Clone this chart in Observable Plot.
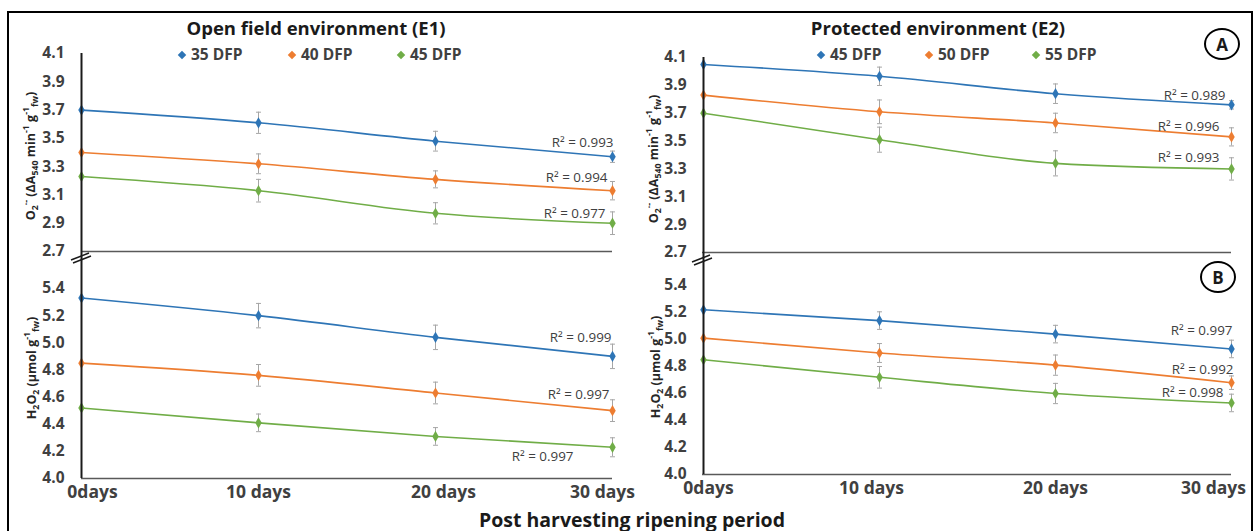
<!DOCTYPE html>
<html><head><meta charset="utf-8">
<script src="https://cdn.jsdelivr.net/npm/d3@7"></script>
<script src="https://cdn.jsdelivr.net/npm/@observablehq/plot@0.6"></script>
<style>
body{margin:0;background:#fff;font-family:"Open Sans",Lato,sans-serif;}
#chart{position:relative;width:1258px;height:531px;overflow:hidden;background:#fff;}
.frame{position:absolute;left:7px;top:11px;width:1246px;height:560px;border:2px solid #000;box-sizing:border-box;}
.pl{position:absolute;}
.title{position:absolute;transform:translate(-50%,-50%);font-weight:bold;font-size:18.5px;color:#1a1a1a;white-space:nowrap;}
.leg{position:absolute;transform:translateY(-50%);font-weight:bold;font-size:15.5px;color:#404040;white-space:nowrap;}
.mk{display:inline-block;width:6px;height:6px;transform:rotate(45deg);margin-right:6px;vertical-align:middle;position:relative;top:-1px;}
.ylab{position:absolute;transform:translate(-50%,-50%) rotate(-90deg);white-space:nowrap;font-weight:bold;font-size:12.5px;color:#262626;}
.ylab sub,.ylab sup{font-size:0.7em;line-height:0;}
.xtitle{position:absolute;transform:translate(-50%,-50%);font-weight:bold;font-size:19.5px;color:#1a1a1a;white-space:nowrap;}
.circ{position:absolute;width:36px;height:32px;border:2px solid #000;border-radius:50%;box-sizing:border-box;transform:translate(-50%,-50%);display:flex;align-items:center;justify-content:center;font-weight:bold;font-size:17px;color:#1a1a1a;}
.brk{position:absolute;}
</style></head>
<body><div id="chart"></div>
<script>
// ---------- data ----------
const days = ["0days", "10 days", "20 days", "30 days"];
const seriesE1 = ["35 DFP", "40 DFP", "45 DFP"];
const seriesE2 = ["45 DFP", "50 DFP", "55 DFP"];
const seriesColors = ["#2e75b6", "#ed7d31", "#70ad47"];

const o2Ticks = [2.7, 2.9, 3.1, 3.3, 3.5, 3.7, 3.9, 4.1];
const h2o2Ticks = [4.0, 4.2, 4.4, 4.6, 4.8, 5.0, 5.2, 5.4];

// Superoxide, open field (E1)
const o2E1_35 = [3.70, 3.61, 3.48, 3.37];
const o2E1_40 = [3.40, 3.32, 3.21, 3.13];
const o2E1_45 = [3.23, 3.13, 2.97, 2.90];
const o2E1_35err = [0, 0.075, 0.07, 0.04];
const o2E1_40err = [0, 0.07, 0.06, 0.065];
const o2E1_45err = [0, 0.08, 0.075, 0.08];
const o2E1_r2 = ["0.993", "0.994", "0.977"];

// Superoxide, protected (E2)
const o2E2_45 = [4.05, 3.965, 3.84, 3.76];
const o2E2_50 = [3.83, 3.71, 3.63, 3.53];
const o2E2_55 = [3.70, 3.51, 3.34, 3.30];
const o2E2_45err = [0, 0.066, 0.07, 0.03];
const o2E2_50err = [0, 0.085, 0.07, 0.065];
const o2E2_55err = [0, 0.09, 0.09, 0.08];
const o2E2_r2 = ["0.989", "0.996", "0.993"];

// H2O2, open field (E1)
const h2E1_35 = [5.33, 5.20, 5.04, 4.90];
const h2E1_40 = [4.85, 4.76, 4.63, 4.50];
const h2E1_45 = [4.52, 4.41, 4.31, 4.23];
const h2E1_35err = [0, 0.09, 0.09, 0.09];
const h2E1_40err = [0, 0.08, 0.08, 0.08];
const h2E1_45err = [0, 0.065, 0.065, 0.07];
const h2E1_r2 = ["0.999", "0.997", "0.997"];

// H2O2, protected (E2)
const h2E2_45 = [5.22, 5.14, 5.04, 4.93];
const h2E2_50 = [5.01, 4.90, 4.81, 4.68];
const h2E2_55 = [4.85, 4.72, 4.60, 4.53];
const h2E2_45err = [0, 0.065, 0.065, 0.065];
const h2E2_50err = [0, 0.07, 0.075, 0.05];
const h2E2_55err = [0, 0.08, 0.075, 0.065];
const h2E2_r2 = ["0.997", "0.992", "0.998"];

// ---------- layout ----------
const chart = document.getElementById("chart");
const FONT = "'Open Sans', Lato, sans-serif";
const capSymbol = {draw(ctx, size){ const w = Math.sqrt(size); ctx.moveTo(-w, 0); ctx.lineTo(w, 0); }};

function panel(cfg){
  const rows = [];
  cfg.series.forEach((name, i) => {
    cfg.values[i].forEach((v, j) => rows.push({series: name, day: days[j], v, e: cfg.errors[i][j]}));
  });
  const errRows = rows.filter(d => d.e > 0);
  const d0 = cfg.ticks[0], d1 = cfg.ticks[cfg.ticks.length - 1];
  const ppu = (cfg.height - cfg.marginTop - cfg.marginBottom) / (d1 - d0);
  const axisTopVal = d1 + (cfg.marginTop - cfg.axisTopPx) / ppu;
  const r2marks = cfg.series.map((name, i) => Plot.text([cfg.r2[i]], {
    x: () => days[days.length - 1],
    y: () => cfg.values[i][cfg.values[i].length - 1],
    text: d => "R² = " + d,
    textAnchor: "end", lineAnchor: "middle",
    dx: cfg.r2Offsets[i][0], dy: cfg.r2Offsets[i][1],
    fill: "#404040", fontSize: 13.4, fontWeight: "normal"
  }));
  const marks = [
    Plot.ruleY([d0], {stroke: "#595959", strokeWidth: 1.6}),
    Plot.ruleX(errRows, {x: "day", y1: d => d.v - d.e, y2: d => d.v + d.e, stroke: "#a6a6a6", strokeWidth: 1}),
    Plot.dot(errRows, {x: "day", y: d => d.v - d.e, symbol: capSymbol, r: 1.4, stroke: "#a6a6a6", fill: "none", strokeWidth: 1}),
    Plot.dot(errRows, {x: "day", y: d => d.v + d.e, symbol: capSymbol, r: 1.4, stroke: "#a6a6a6", fill: "none", strokeWidth: 1}),
    Plot.line(rows, {x: "day", y: "v", z: "series", stroke: "series", strokeWidth: 1.6, curve: "monotone-x"}),
    Plot.dot(rows, {x: "day", y: "v", fill: "series", symbol: "diamond", r: 3.4}),
    Plot.ruleX([days[0]], {y1: axisTopVal, y2: d0, stroke: "#1a1a1a", strokeWidth: 2}),
    Plot.axisY({ticks: cfg.ticks, tickFormat: d3.format(".1f"), tickSize: 0, tickPadding: cfg.tickPadding, label: null, fontSize: 15.5, fontWeight: "bold"}),
    ...r2marks
  ];
  if (cfg.xAxis) days.forEach((d, i) => marks.push(
    Plot.axisX({ticks: [d], tickSize: 0, tickPadding: 7, label: null, fontSize: 17.5, fontWeight: "bold", dx: cfg.xLabelDx[i]})));
  const svg = Plot.plot({
    width: cfg.width, height: cfg.height,
    marginTop: cfg.marginTop, marginBottom: cfg.marginBottom,
    marginLeft: cfg.marginLeft, marginRight: cfg.marginRight,
    x: {type: "point", domain: days, padding: 0, axis: null},
    y: {domain: [d0, d1], axis: null},
    color: {domain: cfg.series, range: seriesColors},
    style: {fontFamily: FONT, fontSize: "15px", fontWeight: "bold", color: "#404040", overflow: "visible", background: "transparent"},
    marks
  });
  const wrap = document.createElement("div");
  wrap.className = "pl";
  wrap.style.left = cfg.left + "px";
  wrap.style.top = cfg.top + "px";
  wrap.appendChild(svg);
  chart.appendChild(wrap);
}

// frame
chart.insertAdjacentHTML("beforeend", `<div class="frame"></div>`);

panel({left: 0, top: 0, width: 640, height: 251, marginTop: 53, marginBottom: 0, marginLeft: 81, marginRight: 28,
  tickPadding: 17, axisTopPx: 53, xAxis: false,
  series: seriesE1, values: [o2E1_35, o2E1_40, o2E1_45], errors: [o2E1_35err, o2E1_40err, o2E1_45err], r2: o2E1_r2,
  ticks: o2Ticks, r2Offsets: [[1, -14], [-5, -13], [-7, -10]]});
panel({left: 630, top: 0, width: 628, height: 252, marginTop: 57, marginBottom: 0, marginLeft: 72, marginRight: 27,
  tickPadding: 16, axisTopPx: 57, xAxis: false,
  series: seriesE2, values: [o2E2_45, o2E2_50, o2E2_55], errors: [o2E2_45err, o2E2_50err, o2E2_55err], r2: o2E2_r2,
  ticks: o2Ticks, r2Offsets: [[-6, -9], [-12, -10], [-12, -11]]});
panel({left: 0, top: 240, width: 640, height: 268, marginTop: 48, marginBottom: 30, marginLeft: 81, marginRight: 28,
  tickPadding: 17, axisTopPx: 11, xAxis: true, xLabelDx: [11, 0, 8, -10],
  series: seriesE1, values: [h2E1_35, h2E1_40, h2E1_45], errors: [h2E1_35err, h2E1_40err, h2E1_45err], r2: h2E1_r2,
  ticks: h2o2Ticks, r2Offsets: [[-1, -19], [-3, -16], [-39, 9]]});
panel({left: 630, top: 240, width: 628, height: 264, marginTop: 45, marginBottom: 30, marginLeft: 72, marginRight: 27,
  tickPadding: 16, axisTopPx: 12, xAxis: true, xLabelDx: [5, -8, 0, -18],
  series: seriesE2, values: [h2E2_45, h2E2_50, h2E2_55], errors: [h2E2_45err, h2E2_50err, h2E2_55err], r2: h2E2_r2,
  ticks: h2o2Ticks, r2Offsets: [[1, -18], [2, -13], [-8, -10]]});

// titles, legends, labels
const legendHTML = (names, xs) => names.map((n, i) =>
  `<div class="leg" style="left:${xs[i] - 4}px;top:54px"><span class="mk" style="background:${seriesColors[i]}"></span>${n}</div>`).join("");

const brk = (x, y) => `<svg class="brk" style="left:${x - 12}px;top:${y - 8}px" width="24" height="16">
  <line x1="2" y1="11" x2="20" y2="4" stroke="#1a1a1a" stroke-width="1.5"/>
  <line x1="4" y1="14" x2="22" y2="7" stroke="#1a1a1a" stroke-width="1.5"/></svg>`;

chart.insertAdjacentHTML("beforeend", `
<div class="title" style="left:316px;top:27px">Open field environment (E1)</div>
<div class="title" style="left:938px;top:27px">Protected environment (E2)</div>
${legendHTML(seriesE1, [183, 293, 402])}
${legendHTML(seriesE2, [822, 930, 1037])}
<div class="circ" style="left:1222px;top:44px">A</div>
<div class="circ" style="left:1218px;top:277px">B</div>
<div class="ylab" style="left:30px;top:156px">O<sub>2</sub><sup>·-</sup> (ΔA<sub>540</sub> min<sup>-1</sup> g<sup>-1</sup><sub>fw</sub>)</div>
<div class="ylab" style="left:653px;top:159px">O<sub>2</sub><sup>·-</sup> (ΔA<sub>540</sub> min<sup>-1</sup> g<sup>-1</sup><sub>fw</sub>)</div>
<div class="ylab" style="left:31px;top:368px">H<sub>2</sub>O<sub>2</sub> (µmol g<sup>-1</sup><sub>fw</sub>)</div>
<div class="ylab" style="left:655px;top:367px">H<sub>2</sub>O<sub>2</sub> (µmol g<sup>-1</sup><sub>fw</sub>)</div>
${brk(81, 257)}
${brk(702, 259)}
<div class="xtitle" style="left:632px;top:519px">Post harvesting ripening period</div>
`);
</script></body></html>
